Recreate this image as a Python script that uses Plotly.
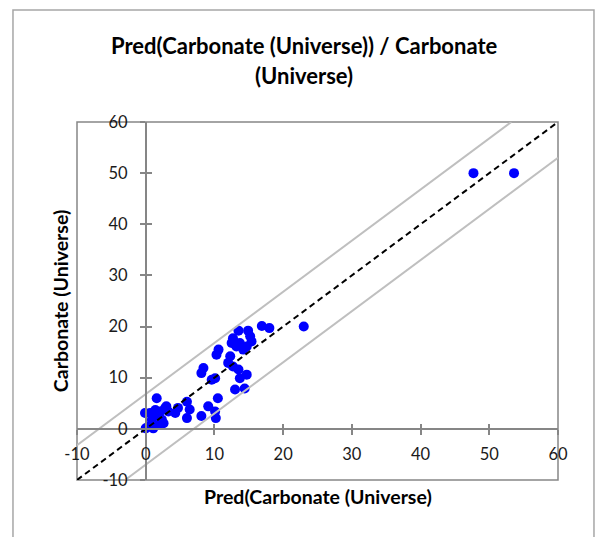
import plotly.graph_objects as go

# Predicted vs. measured carbonate content
pred = [-0.1, 1.6, 0.4, 0.0, 1.1, 0.9, 1.6, 2.1, 2.35, 1.9, 2.8, 2.6, 1.4, 0.65,
        3.3, 3.0, 4.3, 4.7, 6.0, 6.4, 6.0, 8.1, 9.1, 10.1, 10.2, 10.5,
        16.9, 18.0, 13.5, 14.9, 15.2, 15.4, 12.7, 12.5, 13.7, 14.7, 14.2, 13.2,
        10.6, 10.3, 12.3, 12.0, 12.7, 13.5, 14.7, 13.7, 8.4, 8.1, 10.1, 9.6,
        13.0, 14.4, 23.0, 47.7, 53.6]
actual = [3.1, 6.0, 0.45, 0.1, 0.1, 1.8, 2.7, 3.4, 1.8, 0.8, 4.0, 1.1, 3.7, 3.1,
          3.4, 4.4, 3.1, 4.1, 5.3, 3.8, 2.1, 2.5, 4.4, 3.4, 2.1, 6.0,
          20.1, 19.7, 19.2, 19.2, 18.1, 17.1, 17.7, 16.8, 16.8, 16.1, 15.5, 16.1,
          15.5, 14.5, 14.2, 12.9, 12.2, 11.6, 10.6, 9.9, 11.9, 10.9, 9.9, 9.6,
          7.7, 7.9, 20.0, 50.0, 50.0]

# Reference lines: 1:1 line and the upper / lower bands
diag_x = [-10, 60]
diag_y = [-10, 60]
upper_x = [-10, 53.2]
upper_y = [-3.2, 60]
lower_x = [-3.0, 60]
lower_y = [-10, 53.0]

tick_vals = [-10, 0, 10, 20, 30, 40, 50, 60]
tick_text = ["-10", "0", "10", "20", "30", "40", "50", "60"]

axis_min, axis_max = -10, 60
zero_pos = (0 - axis_min) / (axis_max - axis_min)

AXIS_GRAY = "#868686"
BAND_GRAY = "#BFBFBF"
FONT = "Lato"

fig = go.Figure()

fig.add_trace(go.Scatter(
    x=pred, y=actual, mode="markers",
    marker=dict(color="#0000FF", size=10, line=dict(width=0)),
    showlegend=False, cliponaxis=False,
))
fig.add_trace(go.Scatter(
    x=upper_x, y=upper_y, mode="lines",
    line=dict(color=BAND_GRAY, width=2), showlegend=False,
))
fig.add_trace(go.Scatter(
    x=lower_x, y=lower_y, mode="lines",
    line=dict(color=BAND_GRAY, width=2), showlegend=False,
))
fig.add_trace(go.Scatter(
    x=diag_x, y=diag_y, mode="lines",
    line=dict(color="black", width=2, dash="6px,4px"), showlegend=False,
))
# carrier for the inner half of the crossing tick marks
fig.add_trace(go.Scatter(x=[None], y=[None], xaxis="x2", yaxis="y2",
                         showlegend=False, hoverinfo="skip"))

common = dict(
    range=[axis_min, axis_max], tickmode="array", tickvals=tick_vals,
    showgrid=False, zeroline=False,
)

fig.update_layout(
    width=597, height=537,
    margin=dict(l=77, r=39, t=122, b=57),
    paper_bgcolor="white", plot_bgcolor="white",
    font=dict(family=FONT, color="black"),
    xaxis=dict(
        **common, ticktext=tick_text,
        anchor="free", position=zero_pos,
        showline=True, linecolor=AXIS_GRAY, linewidth=1.5,
        ticks="outside", ticklen=5, tickwidth=1.5, tickcolor=AXIS_GRAY,
        tickfont=dict(size=16.5, family=FONT, color="#1a1a1a"),
        ticklabelstandoff=6,
    ),
    yaxis=dict(
        **common, ticktext=tick_text,
        anchor="free", position=zero_pos,
        showline=True, linecolor=AXIS_GRAY, linewidth=1.5,
        ticks="outside", ticklen=5, tickwidth=1.5, tickcolor=AXIS_GRAY,
        tickfont=dict(size=16.5, family=FONT, color="#1a1a1a"),
        ticklabelstandoff=9,
    ),
    xaxis2=dict(
        **common, overlaying="x", anchor="free", position=zero_pos,
        showline=False, showticklabels=False,
        ticks="inside", ticklen=5, tickwidth=1.5, tickcolor=AXIS_GRAY,
    ),
    yaxis2=dict(
        **common, overlaying="y", anchor="free", position=zero_pos,
        showline=False, showticklabels=False,
        ticks="inside", ticklen=5, tickwidth=1.5, tickcolor=AXIS_GRAY,
    ),
    shapes=[
        # plot-area border
        dict(type="rect", xref="paper", yref="paper", x0=0, x1=1, y0=0, y1=1,
             line=dict(color=AXIS_GRAY, width=1.5), layer="below"),
        # chart-area frame
        dict(type="rect", xref="paper", yref="paper",
             x0=-0.1331, x1=1.0748, y0=-0.19, y1=1.3128,
             line=dict(color="#A6A6A6", width=1.5), layer="below"),
    ],
    annotations=[
        dict(text="<b>Pred(Carbonate (Universe)) / Carbonate</b>",
             xref="paper", yref="paper", x=0.472, y=1.215,
             showarrow=False, xanchor="center", yanchor="middle",
             font=dict(size=22, family=FONT, color="black")),
        dict(text="<b>(Universe)</b>",
             xref="paper", yref="paper", x=0.472, y=1.131,
             showarrow=False, xanchor="center", yanchor="middle",
             font=dict(size=22, family=FONT, color="black")),
        dict(text="<b>Pred(Carbonate (Universe)</b>",
             xref="paper", yref="paper", x=0.5, y=-0.047,
             showarrow=False, xanchor="center", yanchor="middle",
             font=dict(size=19.5, family=FONT, color="black")),
        dict(text="<b>Carbonate (Universe)</b>",
             xref="paper", yref="paper", x=-0.035, y=0.5, textangle=-90,
             showarrow=False, xanchor="center", yanchor="middle",
             font=dict(size=19.5, family=FONT, color="black")),
    ],
)

fig.write_html("out.html")
